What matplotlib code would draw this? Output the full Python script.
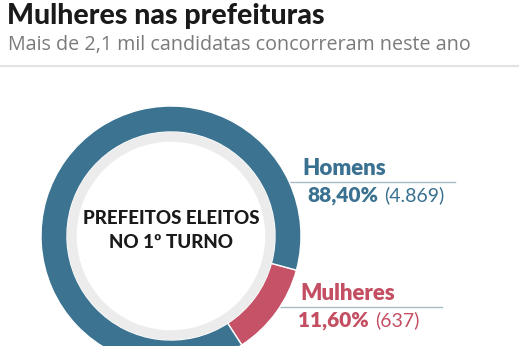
import numpy as np
import matplotlib.pyplot as plt

# Prefeitos eleitos no 1º turno, por sexo
labels = ['Mulheres', 'Homens']
shares = [11.60, 88.40]
counts = ['637', '4.869']
colors = ['#c55266', '#3b7391']

W, H = 519, 346
fig = plt.figure(figsize=(W / 100, H / 100), dpi=100)
fig.patch.set_facecolor('white')

# overlay axes in pixel units for text and leader lines
ov = fig.add_axes([0, 0, 1, 1])
ov.set_xlim(0, W)
ov.set_ylim(H, 0)
ov.axis('off')

ov.text(7, 16, 'Mulheres nas prefeituras', fontsize=20.5, fontweight='black',
        family='Lato', color='#1a1a1a', va='center', ha='left')
ov.text(8, 45, 'Mais de 2,1 mil candidatas concorreram neste ano', fontsize=14.2,
        family='Open Sans', color='#7a7a7a', va='center', ha='left')
ov.plot([0, W], [66, 66], color='#e3e3e3', lw=1.5)

# donut
cx, cy, R = 171, 236, 130
pie_ax = fig.add_axes([(cx - R) / W, (H - cy - R) / H, 2 * R / W, 2 * R / H])
wedges, _ = pie_ax.pie(shares, colors=colors, startangle=-57, counterclock=True,
                       radius=1, wedgeprops=dict(width=0.2, edgecolor='white', linewidth=1))
pie_ax.pie([1], colors=['#ececec'], radius=0.8, wedgeprops=dict(width=0.075, linewidth=0))
pie_ax.set_xlim(-1, 1)
pie_ax.set_ylim(-1, 1)
pie_ax.set_aspect('equal')

ov.text(cx, 218, 'PREFEITOS ELEITOS', fontsize=13.5, fontweight='black', family='Lato',
        color='#1a1a1a', ha='center', va='center')
ov.text(cx, 243, 'NO 1º TURNO', fontsize=13.5, fontweight='black', family='Lato',
        color='#1a1a1a', ha='center', va='center')

# labels: dot on the ring, line out to the right
label_angle = {'Homens': 27, 'Mulheres': None}
line_end = {'Homens': 455, 'Mulheres': 442}
text_color = {'Homens': '#3a7190', 'Mulheres': '#c44f63'}
name_x = {'Homens': 302, 'Mulheres': 300}
pct_x = {'Homens': 307, 'Mulheres': 298}
for w, lab, share, n in zip(wedges, labels, shares, counts):
    ang = label_angle[lab]
    if ang is None:
        ang = (w.theta1 + w.theta2) / 2
    r = 0.92 * R
    px = cx + r * np.cos(np.radians(ang))
    py = cy - r * np.sin(np.radians(ang))
    ov.plot([px, line_end[lab]], [py, py], color='#a9bcc6', lw=1)
    ov.plot(px, py, 'o', ms=4, color='#a9bcc6')
    tc = text_color[lab]
    ov.text(name_x[lab], py - 13, lab, fontsize=16, fontweight='heavy', family='Lato',
            color=tc, ha='left', va='center')
    t2 = ov.text(pct_x[lab], py + 14, f'{share:.2f}%'.replace('.', ','), fontsize=15,
                 fontweight='heavy', family='Lato', color=tc, ha='left', va='center')
    fig.canvas.draw()
    bb = t2.get_window_extent()
    x_end = ov.transData.inverted().transform((bb.x1, bb.y0))[0]
    ov.text(x_end + 6, py + 14, f'({n})', fontsize=14, family='Lato',
            color=tc, ha='left', va='center')

fig.savefig('out.png', dpi=100, facecolor='white')
